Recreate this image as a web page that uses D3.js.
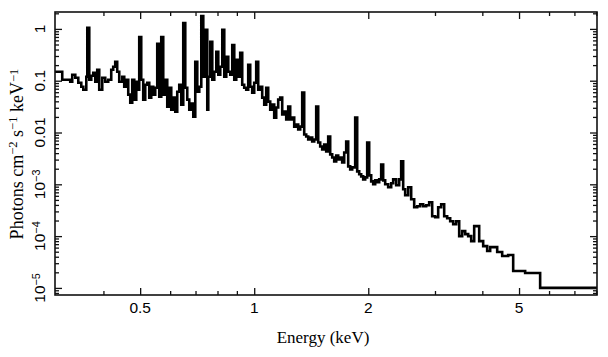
<!DOCTYPE html>
<html><head><meta charset="utf-8">
<script src="https://cdn.jsdelivr.net/npm/d3@7"></script>
<style>body{margin:0;background:#fff}svg{display:block}</style>
</head><body><svg id="c" width="608" height="357"></svg>
<script>
// Bin lower edges (keV)
const binLo = [0.29,0.3114,0.3269,0.3309,0.3371,0.3433,0.3496,0.3539,0.3604,0.3626,
0.3670,0.3715,0.3760,0.3806,0.3852,0.3899,0.3971,0.4044,0.4118,0.4194,
0.4245,0.4297,0.4349,0.4403,0.4484,0.4539,0.4595,0.4651,0.4708,0.4765,
0.4824,0.4883,0.4942,0.4972,0.5033,0.5094,0.5157,0.5220,0.5284,0.5348,
0.5414,0.5480,0.5547,0.5615,0.5684,0.5753,0.5824,0.5895,0.5967,0.6040,
0.6114,0.6189,0.6264,0.6341,0.6419,0.6497,0.6577,0.6657,0.6739,0.6821,
0.6905,0.6989,0.7075,0.7161,0.7249,0.7338,0.7427,0.7518,0.7564,0.7657,
0.7750,0.7845,0.7941,0.8038,0.8136,0.8236,0.8336,0.8438,0.8541,0.8645,
0.8751,0.8858,0.8966,0.9074,0.9184,0.9297,0.9410,0.9526,0.9642,0.9760,
0.9879,1.0000,1.0122,1.0246,1.0371,1.0498,1.0627,1.0756,1.0888,1.1021,
1.1156,1.1292,1.1430,1.1570,1.1711,1.1855,1.2000,1.2147,1.2295,1.2445,
1.2598,1.2752,1.2907,1.3065,1.3225,1.3387,1.3550,1.3716,1.3884,1.4053,
1.4225,1.4399,1.4575,1.4753,1.4933,1.5116,1.5301,1.5488,1.5677,1.5869,
1.6063,1.6259,1.6458,1.6659,1.6863,1.7069,1.7278,1.7489,1.7703,1.7919,
1.8138,1.8472,1.8698,1.8927,1.9158,1.9392,1.9629,1.9869,2.0112,2.0358,
2.0606,2.0858,2.1113,2.1372,2.1633,2.1897,2.2165,2.2572,2.2988,2.3268,
2.3696,2.4132,2.4427,2.4726,2.5028,2.5489,2.5958,2.6436,2.6922,2.7417,
2.7922,2.8436,2.8959,2.9492,3.0035,3.0588,3.1150,3.1724,3.2307,3.2902,
3.3508,3.4124,3.4752,3.5392,3.6043,3.6706,3.7382,3.8069,3.9243,4.0206,
4.1194,4.1952,4.3780,4.5130,4.6804,4.8250,5.1889,5.6839];
const lastEdge = 9.0;
// Flux (photons cm^-2 s^-1 keV^-1)
const flux = [0.149,0.1045,0.0957,0.130,0.114,0.0915,0.0767,0.0671,0.119,1.05,
0.1045,0.125,0.1425,0.0957,0.163,0.0671,0.114,0.0957,0.1045,0.163,
0.186,0.232,0.149,0.0957,0.119,0.0767,0.1045,0.0538,0.0378,0.1045,
0.0431,0.0957,0.0671,0.70,0.1045,0.0431,0.0838,0.0915,0.0471,0.0767,
0.0538,0.0733,0.515,0.0492,0.70,0.0538,0.1045,0.0316,0.0733,0.0277,
0.0471,0.0253,0.0614,0.0838,0.0345,1.30,0.0733,0.0431,0.0277,0.0361,
0.0203,0.232,0.0614,0.0767,1.78,0.119,0.957,0.0277,0.119,0.562,
0.1045,0.149,0.361,0.130,0.186,0.957,0.119,0.289,0.149,0.130,
0.49,0.1045,0.253,0.119,0.345,0.0838,0.0733,0.0671,0.203,0.0767,
0.0588,0.0915,0.232,0.0671,0.0767,0.0471,0.0345,0.0733,0.0395,0.0277,
0.0345,0.0194,0.0303,0.0431,0.0471,0.0222,0.0253,0.0178,0.0316,0.0178,
0.0194,0.0130,0.01425,0.01142,0.0130,0.0588,0.00915,0.00838,0.00733,0.00801,
0.00671,0.00733,0.0316,0.00642,0.00538,0.00471,0.00588,0.00431,0.00838,0.00378,
0.00330,0.00277,0.00361,0.00303,0.00330,0.00265,0.00412,0.00671,0.00222,0.00194,
0.00212,0.0194,0.00178,0.00156,0.001425,0.001248,0.001363,0.00642,0.00149,0.001142,
0.001,0.001194,0.001093,0.001248,0.00242,0.001194,0.001,0.000876,0.001045,0.001248,
0.000957,0.001248,0.00277,0.000801,0.000614,0.000876,0.000515,0.000361,0.000378,0.000412,
0.000378,0.000395,0.000451,0.000242,0.000232,0.000361,0.000412,0.000242,0.000222,0.000194,
0.000170,0.000194,0.0001,0.0001248,0.0001093,0.0001,8.01e-5,0.0001557,8.01e-5,6.42e-5,
5.15e-5,6.14e-5,4.92e-5,4.12e-5,4.31e-5,2.12e-5,1.94e-5,1.0e-5];

const xMajor = [0.5, 1, 2, 5];
const xMajorLabels = ["0.5", "1", "2", "5"];
const xMinor = [0.4, 0.6, 0.7, 0.8, 0.9, 3, 4, 6, 7, 8];
const yMajor = [1, 0.1, 0.01, 1e-3, 1e-4, 1e-5];
const yMajorLabels = [["1",""],["0.1",""],["0.01",""],["10","\u22123"],["10","\u22124"],["10","\u22125"]];
const yMinorMult = [2,3,4,5,6,7,8,9];
const xTitle = "Energy (keV)";

const L = 55, R = 597, T = 12, B = 295;
const x = d3.scaleLog().domain([0.298, 8.03]).range([L, R]);
const y = d3.scaleLog().domain([7.3e-6, 2.12]).range([B, T]);

const svg = d3.select("#c");
const sans = "'Liberation Sans', Arial, Helvetica, sans-serif";
const serif = "'Liberation Serif', 'Times New Roman', serif";

svg.append("clipPath").attr("id","clip").append("rect")
  .attr("x",L).attr("y",T).attr("width",R-L).attr("height",B-T);

// spectrum as step line
const pts = binLo.map((e,i)=>[e, flux[i]]);
pts.push([lastEdge, flux[flux.length-1]]);
const line = d3.line().x(d=>x(d[0])).y(d=>y(d[1])).curve(d3.curveStepAfter);
svg.append("path").datum(pts).attr("d", line)
  .attr("clip-path","url(#clip)")
  .attr("fill","none").attr("stroke","#000").attr("stroke-width",2.6)
  .attr("stroke-linejoin","miter");

// minor y ticks
const yMinor = [];
[1e-6,1e-5,1e-4,1e-3,1e-2,1e-1,1].forEach(d=>yMinorMult.forEach(m=>{
  const v=d*m; if (v>7.3e-6 && v<2.12) yMinor.push(v);
}));

function styleAxis(g){
  g.select(".domain").remove();
  g.selectAll(".tick line").attr("stroke","#111").attr("stroke-width",1.3);
  g.selectAll(".tick text").remove();
}
svg.append("g").attr("transform",`translate(0,${B})`)
  .call(d3.axisBottom(x).tickValues(xMajor).tickSize(-7)).call(styleAxis);
svg.append("g").attr("transform",`translate(0,${B})`)
  .call(d3.axisBottom(x).tickValues(xMinor).tickSize(-4)).call(styleAxis);
svg.append("g").attr("transform",`translate(0,${T})`)
  .call(d3.axisTop(x).tickValues(xMajor).tickSize(-7)).call(styleAxis);
svg.append("g").attr("transform",`translate(0,${T})`)
  .call(d3.axisTop(x).tickValues(xMinor).tickSize(-4)).call(styleAxis);
svg.append("g").attr("transform",`translate(${L},0)`)
  .call(d3.axisLeft(y).tickValues(yMajor).tickSize(-7)).call(styleAxis);
svg.append("g").attr("transform",`translate(${L},0)`)
  .call(d3.axisLeft(y).tickValues(yMinor).tickSize(-4)).call(styleAxis);
svg.append("g").attr("transform",`translate(${R},0)`)
  .call(d3.axisRight(y).tickValues(yMajor).tickSize(-7)).call(styleAxis);
svg.append("g").attr("transform",`translate(${R},0)`)
  .call(d3.axisRight(y).tickValues(yMinor).tickSize(-4)).call(styleAxis);

// frame
svg.append("rect").attr("x",L).attr("y",T).attr("width",R-L).attr("height",B-T)
  .attr("fill","none").attr("stroke","#111").attr("stroke-width",1.6);

// x tick labels
svg.append("g").selectAll("text").data(xMajor).join("text")
  .attr("x",d=>x(d)).attr("y",313).attr("text-anchor","middle")
  .attr("font-family",sans).attr("font-size",15.5).attr("fill","#000")
  .text((d,i)=>xMajorLabels[i]);

// y tick labels (rotated)
const yl = svg.append("g").selectAll("text").data(yMajor).join("text")
  .attr("transform",d=>`translate(45,${y(d)}) rotate(-90)`)
  .attr("text-anchor","middle")
  .attr("font-family",sans).attr("font-size",15.5).attr("fill","#000");
yl.each(function(d,i){
  const t = d3.select(this), lab = yMajorLabels[i];
  t.append("tspan").text(lab[0]);
  if (lab[1]) t.append("tspan").attr("dy","-0.45em").attr("font-size","70%").text(lab[1]);
});

// axis titles
svg.append("text").attr("x",323).attr("y",343).attr("text-anchor","middle")
  .attr("font-family",serif).attr("font-size",17).attr("fill","#000").text(xTitle);
const yt = svg.append("text").attr("transform","translate(23,154) rotate(-90)")
  .attr("text-anchor","middle").attr("font-family",serif).attr("font-size",18).attr("fill","#000");
const ytParts = [["Photons cm",false],["\u22122",true],[" s",false],["\u22121",true],[" keV",false],["\u22121",true]];
ytParts.forEach((p,i)=>{
  const ts = yt.append("tspan").text(p[0]);
  if (p[1]) ts.attr("dy","-0.45em").attr("font-size","70%");
  else if (i>0) ts.attr("dy","0.32em");
});
</script></body></html>
